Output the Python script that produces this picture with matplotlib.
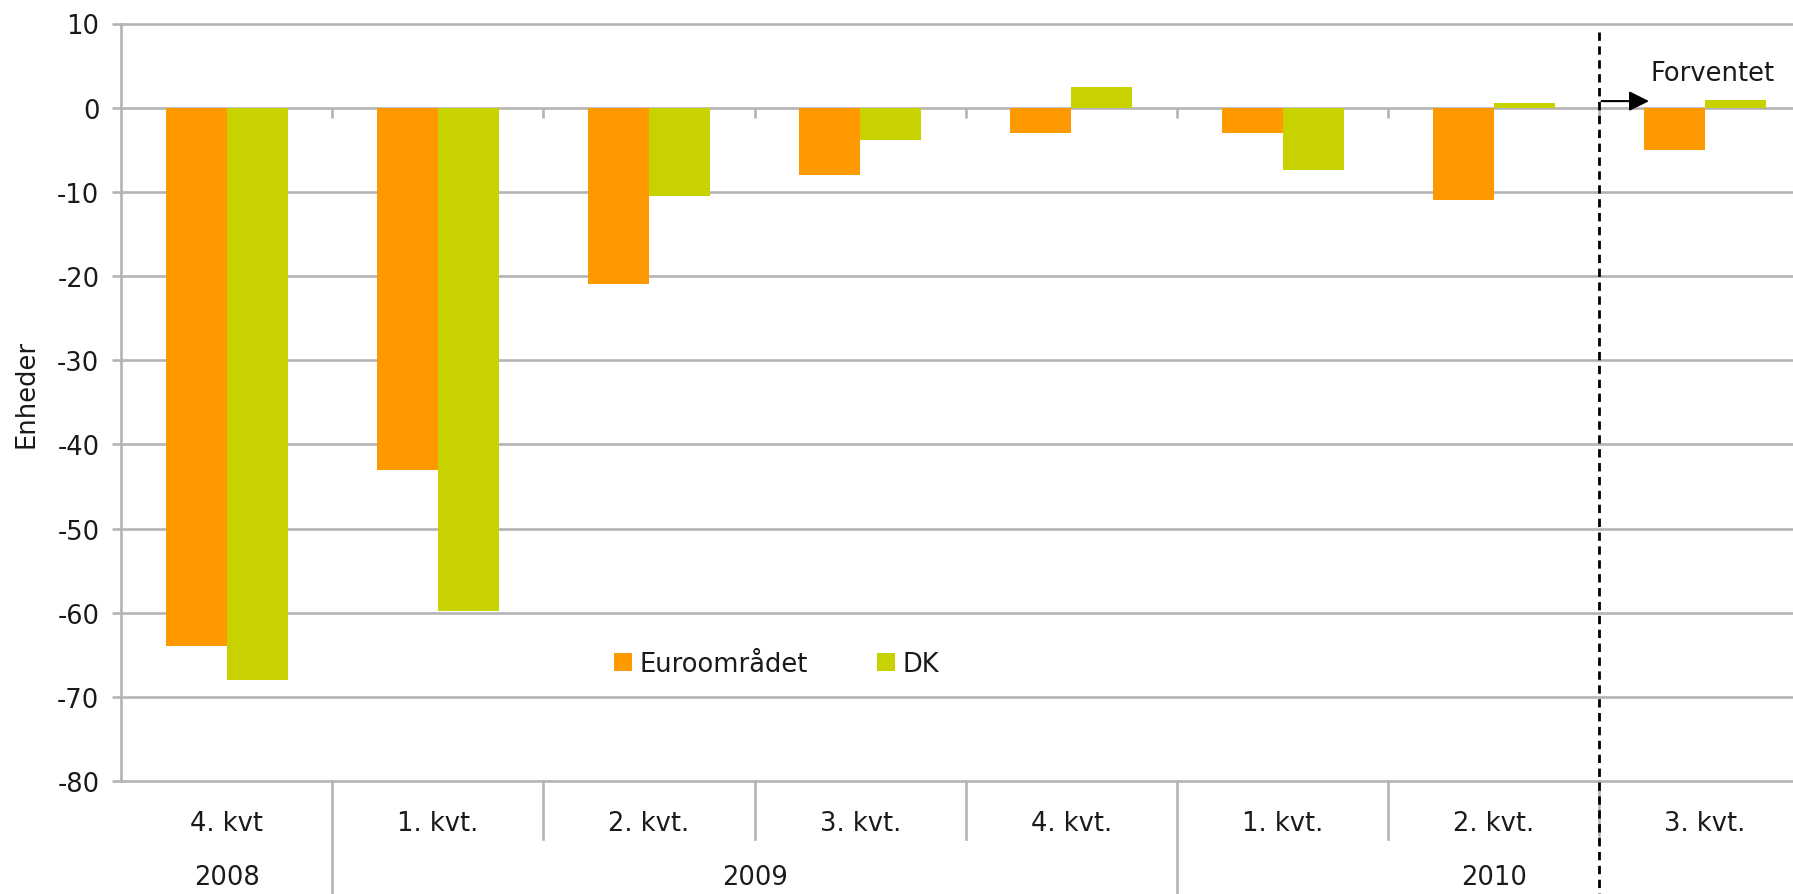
import matplotlib
matplotlib.use("Agg")
import matplotlib.pyplot as plt
from matplotlib.transforms import blended_transform_factory
from matplotlib.patches import Patch
import numpy as np

quarters = ["4. kvt", "1. kvt.", "2. kvt.", "3. kvt.", "4. kvt.", "1. kvt.", "2. kvt.", "3. kvt."]
years = ["2008", "2009", "2010"]
year_counts = [1, 4, 3]
euro = [-64, -43, -21, -8, -3, -3, -11, -5]
dk = [-68, -59.8, -10.5, -3.8, 2.4, -7.4, 0.6, 0.9]
series_names = ["Euroområdet", "DK"]
forecast_start = 7  # index of first forecast quarter
yticks = list(range(-80, 11, 10))

ORANGE = "#FF9900"
GREEN = "#C8D200"
GRID = "#B4B4B4"
TXT = "#1A1A1A"
FS = 18.5

plt.rcParams['font.family'] = ['DejaVu Sans']

fig = plt.figure(figsize=(17.93, 8.95), dpi=100)
ax = fig.add_axes([121/1793, 113/895, 8*211.2/1793, 757.5/895])

n = len(quarters)
x = np.arange(n)
w = 0.289
ax.bar(x - w/2, euro, width=w, color=ORANGE, zorder=2)
ax.bar(x + w/2, dk, width=w, color=GREEN, zorder=2)

ax.set_xlim(-0.5, n - 0.5)
ax.set_ylim(-80, 10)
ax.set_yticks(yticks)
ax.set_yticklabels([str(v) for v in yticks], fontsize=FS, color=TXT)
ax.yaxis.grid(True, color=GRID, linewidth=1.9, zorder=0)
for gl in ax.get_ygridlines():
    gl.set_clip_on(False)
ax.set_axisbelow(True)
ax.tick_params(axis='y', direction='out', length=6.5, width=1.9, color=GRID, pad=9)
ax.set_xticks([])
for s in ['top', 'right', 'bottom']:
    ax.spines[s].set_visible(False)
ax.spines['left'].set_color(GRID)
ax.spines['left'].set_linewidth(1.9)

# small ticks on zero line at category boundaries
bounds = np.arange(n + 1) - 0.5
ax.vlines(bounds[1:-1], -1.2, 0, color=GRID, linewidth=1.9, zorder=1)

trans = blended_transform_factory(ax.transData, ax.transAxes)
# quarter labels
for i, q in enumerate(quarters):
    ax.text(i, -0.0554, q, transform=trans, ha='center', va='center', fontsize=FS, color=TXT)
# year labels and separators
start = 0
major = [-0.5]
for yr, c in zip(years, year_counts):
    center = start + (c - 1) / 2
    ax.text(center, -0.1267, yr, transform=trans, ha='center', va='center', fontsize=FS, color=TXT)
    start += c
    major.append(start - 0.5)
for b in bounds[1:]:
    ybot = -0.16 if b in major else -0.0772
    ax.plot([b, b], [0, ybot], transform=trans, color=GRID, linewidth=1.9, clip_on=False, zorder=1)

# forecast dashed line
fx = forecast_start - 0.5
ax.plot([fx, fx], [0.9888, -0.16], transform=trans, color='black', linewidth=2.0,
        dashes=(3, 2), clip_on=False, zorder=5)
ax.annotate("", xy=(fx + 0.235, 0.78), xytext=(fx + 0.01, 0.78),
            arrowprops=dict(arrowstyle='-|>', color='black', lw=1.5, mutation_scale=30,
                            shrinkA=0, shrinkB=0), zorder=5)
ax.text(fx + 0.24, 4.1, "Forventet", ha='left', va='center', fontsize=FS, color=TXT)

# y label
fig.text(27/1793, 1 - 394/895, "Enheder", rotation=90, ha='center', va='center',
         fontsize=FS, color=TXT)

handles = [Patch(facecolor=ORANGE, edgecolor='none'), Patch(facecolor=GREEN, edgecolor='none')]
fig.legend(handles, series_names, loc='center', bbox_to_anchor=(776.5/1793, 1 - 664.5/895),
           ncol=2, frameon=False, fontsize=FS, handlelength=0.70, handleheight=0.70,
           handletextpad=0.28, columnspacing=2.7, labelcolor=TXT)

fig.savefig("out.png", dpi=100)
